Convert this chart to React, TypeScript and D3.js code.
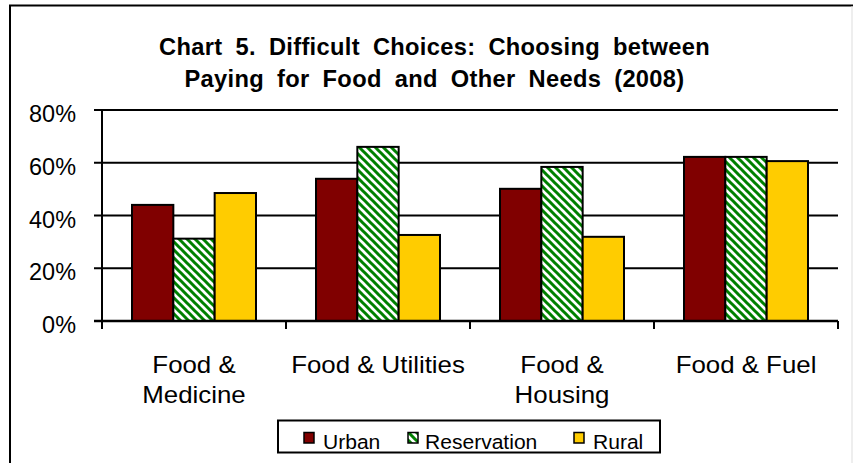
import React from "react";
import * as d3 from "d3";

const categories: string[][] = [
  ["Food &", "Medicine"],
  ["Food & Utilities"],
  ["Food &", "Housing"],
  ["Food & Fuel"],
];
const seriesNames = ["Urban", "Reservation", "Rural"];
const urban = [0.444, 0.543, 0.505, 0.626];
const reservation = [0.316, 0.664, 0.588, 0.626];
const rural = [0.489, 0.33, 0.323, 0.61];
const yTicks = [0, 0.2, 0.4, 0.6, 0.8];
const titleLines = [
  "Chart 5. Difficult Choices: Choosing between",
  "Paying for Food and Other Needs (2008)",
];

const W = 853;
const H = 463;
const FONT = "'Liberation Sans', Arial, sans-serif";
const plot = { left: 102, right: 838, top: 110, bottom: 321 };
const fills = ["#800000", "url(#resv)", "#FFCC00"];

function T(props: {
  x: number; y: number; sx?: number; size: number; anchor?: string;
  weight?: string; ls?: number; ws?: number; children: React.ReactNode;
}) {
  const { x, y, sx = 1, size, anchor = "middle", weight = "normal", ls = 0, ws = 0, children } = props;
  return (
    <text
      transform={`translate(${x},${y}) scale(${sx},1)`}
      fontFamily={FONT}
      fontSize={size}
      fontWeight={weight}
      textAnchor={anchor}
      letterSpacing={ls}
      wordSpacing={ws}
      fill="#000"
    >
      {children}
    </text>
  );
}

export default function App() {
  const series = [urban, reservation, rural];
  const x0 = d3
    .scaleBand<number>()
    .domain(d3.range(categories.length))
    .range([plot.left, plot.right])
    .paddingInner(60 / 184)
    .paddingOuter(30 / 184);
  const x1 = d3
    .scaleBand<number>()
    .domain(d3.range(series.length))
    .range([0, x0.bandwidth()]);
  const y = d3.scaleLinear().domain([0, 0.8]).range([plot.bottom, plot.top]);
  const fmt = d3.format(".0%");
  const step = x0.step();
  const boundaries = d3.range(categories.length + 1).map((i) => plot.left + i * step);

  const legendX = [304, 408, 574];
  const legendTextX = [323, 425, 593];

  return (
    <svg
      width={W}
      height={H}
      style={{ position: "absolute", left: 0, top: 0, background: "#fff" }}
    >
      <defs>
        <pattern id="resv" patternUnits="userSpaceOnUse" width={8} height={8}>
          <rect width={8} height={8} fill="#fff" />
          <path
            d="M-2,-2 L10,10 M-2,6 L2,10 M6,-2 L10,2"
            stroke="#008000"
            strokeWidth={3}
          />
        </pattern>
      </defs>
      <rect x={0} y={0} width={W} height={H} fill="#fff" />
      {/* outer frame */}
      <path d={`M10,${H} L10,5.5 L${W},5.5`} fill="none" stroke="#000" strokeWidth={2} />
      <line x1={852} y1={6} x2={852} y2={H} stroke="#ddd" strokeWidth={1} />

      {/* title */}
      {titleLines.map((t, i) => (
        <T key={i} x={434.5} y={54.5 + i * 32} size={23} weight="bold" sx={1.03} ls={0.3} ws={6}>
          {t}
        </T>
      ))}

      {/* gridlines */}
      {yTicks.map((t) => (
        <line
          key={t}
          x1={plot.left - 8}
          x2={plot.right}
          y1={y(t)}
          y2={y(t)}
          stroke="#000"
          strokeWidth={2}
        />
      ))}
      {/* y labels */}
      {yTicks.map((t) => (
        <T key={t} x={76} y={y(t) + 12} size={23} anchor="end" sx={1.02}>
          {fmt(t)}
        </T>
      ))}

      {/* bars */}
      {categories.map((_, ci) => (
        <g key={ci} transform={`translate(${x0(ci)},0)`}>
          {series.map((s, si) => (
            <rect
              key={si}
              x={x1(si)!}
              y={y(s[ci]) + 1}
              width={x1.bandwidth()}
              height={plot.bottom - y(s[ci]) - 1}
              fill={fills[si]}
              stroke="#000"
              strokeWidth={2}
            />
          ))}
        </g>
      ))}

      {/* axes */}
      <line x1={plot.left} x2={plot.left} y1={plot.top} y2={plot.bottom} stroke="#000" strokeWidth={2} />
      <line x1={plot.left - 8} x2={plot.right} y1={plot.bottom} y2={plot.bottom} stroke="#000" strokeWidth={2.5} />
      {boundaries.map((b, i) => (
        <line key={i} x1={b} x2={b} y1={plot.bottom} y2={plot.bottom + 8} stroke="#000" strokeWidth={2} />
      ))}

      {/* x labels */}
      {categories.map((lines, ci) =>
        lines.map((ln, li) => (
          <T key={`${ci}-${li}`} x={x0(ci)! + x0.bandwidth() / 2} y={373 + li * 30} size={23.5} sx={1.1}>
            {ln}
          </T>
        ))
      )}

      {/* legend */}
      <rect x={278} y={420.5} width={382} height={32} fill="#fff" stroke="#000" strokeWidth={2} />
      {seriesNames.map((n, i) => (
        <g key={n}>
          <rect x={legendX[i]} y={432.5} width={10} height={10.5} fill={fills[i]} stroke="#000" strokeWidth={1.5} />
          <T x={legendTextX[i]} y={449} size={19.5} anchor="start" sx={1.08}>
            {n}
          </T>
        </g>
      ))}
    </svg>
  );
}
